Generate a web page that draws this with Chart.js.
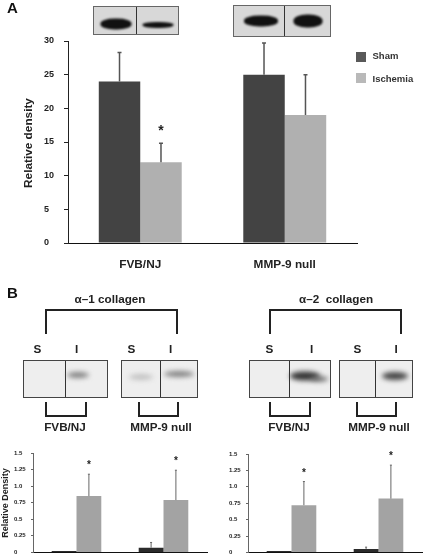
<!DOCTYPE html>
<html lang="en">
<head>
<meta charset="UTF-8" />
<title>Relative density blots</title>
<style>
  body { margin: 0; background: #fff; font-family: "Liberation Sans", Arial, sans-serif; font-weight: bold; color: #222; }
  #page { position: relative; width: 428px; height: 559px; overflow: hidden; filter: blur(0.35px); }
  canvas { position: absolute; }
  .txt { position: absolute; white-space: pre; transform: translate(-50%, -50%); font-size: 11.7px; line-height: 1; }
  .panel { position: absolute; font-size: 15px; line-height: 1; color: #111; }
  .key { position: absolute; left: 356px; width: 10px; height: 10px; }
  .keytxt { position: absolute; left: 372.5px; font-size: 9.5px; line-height: 1; color: #333; }
  .blot { position: absolute; box-sizing: border-box; border: 1px solid #444; background: #eeeeee; overflow: hidden; }
  .dark { background: #d8d8d8; border-color: #666; }
  .div { position: absolute; top: 0; bottom: 0; width: 1px; background: #333; }
  .band { position: absolute; border-radius: 45%; transform: translate(-50%, -50%); background: #111; filter: blur(1px); }
  .soft { border-radius: 50%; filter: blur(2.5px); background: #808080; }
  .br { position: absolute; box-sizing: border-box; border: 2px solid #222; }
  .top { border-bottom: 0; }
  .bot { border-top: 0; }
</style>
</head>
<body>
<div id="page">
  <canvas id="chartA" width="428" height="280" style="left:0;top:0"></canvas>
  <canvas id="chartB1" width="214" height="119" style="left:0;top:440px"></canvas>
  <canvas id="chartB2" width="214" height="119" style="left:214px;top:440px"></canvas>

  <div class="panel" style="left:7px;top:0">A</div>
  <div class="panel" style="left:7px;top:285px">B</div>

  <div class="key" style="top:52px;background:#595959"></div>
  <div class="key" style="top:73px;background:#b9b9b9"></div>
  <div class="keytxt" style="top:51px">Sham</div>
  <div class="keytxt" style="top:74px">Ischemia</div>

  <div class="txt" style="left:29px;top:143px;font-size:11.8px;transform:translate(-50%,-50%) rotate(-90deg)">Relative density</div>

  <div class="blot dark" style="left:93px;top:6px;width:86px;height:29px">
    <div class="div" style="left:42px"></div>
    <div class="band" style="left:22px;top:17px;width:31px;height:11px"></div>
    <div class="band" style="left:64px;top:18px;width:31px;height:6px"></div>
  </div>
  <div class="blot dark" style="left:233px;top:5px;width:98px;height:32px">
    <div class="div" style="left:50px"></div>
    <div class="band" style="left:27px;top:15px;width:34px;height:11px"></div>
    <div class="band" style="left:74px;top:15px;width:29px;height:13px"></div>
  </div>

  <div class="txt" style="left:110px;top:299px">α–1 collagen</div>
  <div class="txt" style="left:336px;top:299px">α–2  collagen</div>

  <div class="br top" style="left:45px;top:309px;width:133px;height:25px"></div>
  <div class="br top" style="left:268.5px;top:309px;width:133px;height:25px"></div>

  <div class="txt" style="left:37.5px;top:349px">S</div>
  <div class="txt" style="left:76.5px;top:349px">I</div>
  <div class="txt" style="left:131.5px;top:349px">S</div>
  <div class="txt" style="left:170.5px;top:349px">I</div>
  <div class="txt" style="left:269.5px;top:349px">S</div>
  <div class="txt" style="left:311.5px;top:349px">I</div>
  <div class="txt" style="left:357.5px;top:349px">S</div>
  <div class="txt" style="left:396px;top:349px">I</div>

  <div class="blot" style="left:23px;top:360px;width:85px;height:38px">
    <div class="div" style="left:41px"></div>
    <div class="band soft" style="left:54px;top:14px;width:22px;height:6px"></div>
  </div>
  <div class="blot" style="left:121px;top:360px;width:77px;height:38px">
    <div class="div" style="left:38px"></div>
    <div class="band soft" style="left:19px;top:16px;width:24px;height:6px;background:#c2c2c2"></div>
    <div class="band soft" style="left:57px;top:13px;width:30px;height:6px"></div>
  </div>
  <div class="blot" style="left:249px;top:360px;width:82px;height:38px">
    <div class="div" style="left:39px"></div>
    <div class="band soft" style="left:55px;top:15px;width:30px;height:9px;background:#333"></div>
    <div class="band soft" style="left:69px;top:18px;width:18px;height:5px;background:#666"></div>
  </div>
  <div class="blot" style="left:339px;top:360px;width:74px;height:38px">
    <div class="div" style="left:35px"></div>
    <div class="band soft" style="left:55px;top:15px;width:26px;height:8px;background:#444"></div>
  </div>

  <div class="br bot" style="left:45px;top:402px;width:42px;height:15px"></div>
  <div class="br bot" style="left:137.5px;top:402px;width:41px;height:15px"></div>
  <div class="br bot" style="left:268.5px;top:402px;width:42px;height:15px"></div>
  <div class="br bot" style="left:355.5px;top:402px;width:41px;height:15px"></div>

  <div class="txt" style="left:65px;top:427px">FVB/NJ</div>
  <div class="txt" style="left:161px;top:427px">MMP-9 null</div>
  <div class="txt" style="left:289px;top:427px">FVB/NJ</div>
  <div class="txt" style="left:379px;top:427px">MMP-9 null</div>

  <div class="txt" style="left:4.5px;top:503px;font-size:9px;transform:translate(-50%,-50%) rotate(-90deg)">Relative Density</div>
</div>

<script src="https://cdn.jsdelivr.net/npm/chart.js@4"></script>
<script>
  const categoriesA = ["FVB/NJ", "MMP-9 null"];
  const shamA = [24, 25];
  const shamTopA = [28.3, 29.7];
  const ischemiaA = [12, 19];
  const ischemiaTopA = [14.8, 25];
  const starsA = [16.6, null];
  const ticksA = ["0", "5", "10", "15", "20", "25", "30"];

  const categoriesB = ["FVB/NJ", "MMP-9 null"];
  const ticksB = ["0", "0.25", "0.5", "0.75", "1.0", "1.25", "1.5"];

  const shamB1 = [0.02, 0.07];
  const shamTopB1 = [0.02, 0.15];
  const ischemiaB1 = [0.85, 0.79];
  const ischemiaTopB1 = [1.18, 1.24];
  const starsB1 = [1.32, 1.38];

  const shamB2 = [0.02, 0.05];
  const shamTopB2 = [0.02, 0.08];
  const ischemiaB2 = [0.72, 0.82];
  const ischemiaTopB2 = [1.08, 1.33];
  const starsB2 = [1.21, 1.46];

  // error bars (upper only) and the significance stars, placed with the chart scales
  const errorBars = {
    id: "errorBars",
    afterDatasetsDraw(chart, args, opts) {
      const ctx = chart.ctx;
      const y = chart.scales.y;
      chart.data.datasets.forEach((ds, d) => {
        const meta = chart.getDatasetMeta(d);
        ds.tops.forEach((top, i) => {
          const x = meta.data[i].x;
          if (top > ds.data[i]) {
            ctx.strokeStyle = opts.color;
            ctx.lineWidth = opts.width;
            ctx.beginPath();
            ctx.moveTo(x, y.getPixelForValue(ds.data[i]));
            ctx.lineTo(x, y.getPixelForValue(top));
            ctx.moveTo(x - opts.cap, y.getPixelForValue(top));
            ctx.lineTo(x + opts.cap, y.getPixelForValue(top));
            ctx.stroke();
          }
          if (ds.stars && ds.stars[i] != null) {
            ctx.fillStyle = "#222";
            ctx.font = "bold " + opts.star + "px 'Liberation Sans'";
            ctx.textAlign = "center";
            ctx.textBaseline = "middle";
            ctx.fillText("*", x, y.getPixelForValue(ds.stars[i]));
          }
        });
      });
    }
  };

  function barChart(id, o) {
    return new Chart(document.getElementById(id), {
      type: "bar",
      plugins: [errorBars],
      data: {
        labels: o.labels,
        datasets: [
          { label: "Sham", data: o.sham, tops: o.shamTops, backgroundColor: o.darkColor },
          { label: "Ischemia", data: o.isch, tops: o.ischTops, stars: o.stars, backgroundColor: o.lightColor }
        ]
      },
      options: {
        responsive: false,
        animation: false,
        devicePixelRatio: 1,
        layout: { padding: o.padding },
        datasets: { bar: { categoryPercentage: o.barShare, barPercentage: 1 } },
        plugins: {
          legend: { display: false },
          tooltip: { enabled: false },
          errorBars: o.err
        },
        scales: {
          x: {
            grid: { display: false },
            border: { color: "#111", width: o.xLine },
            ticks: {
              display: o.xFont > 0,
              padding: 7,
              maxRotation: 0,
              color: "#222",
              font: { family: "Liberation Sans", weight: "bold", size: o.xFont || 10 }
            },
            afterFit: s => { s.height = o.xHeight; }
          },
          y: {
            min: 0,
            max: o.max,
            grid: { drawOnChartArea: false, tickLength: o.tickLen, color: o.axisColor },
            border: { color: o.axisColor, width: 1 },
            ticks: {
              stepSize: o.step,
              crossAlign: "far",
              color: "#222",
              font: { family: "Liberation Sans", weight: "bold", size: o.yFont },
              callback: (v, i) => o.ticks[i]
            },
            afterFit: s => { s.width = o.yWidth; }
          }
        }
      }
    });
  }

  barChart("chartA", {
    labels: categoriesA, sham: shamA, shamTops: shamTopA, isch: ischemiaA, ischTops: ischemiaTopA, stars: starsA,
    darkColor: "#434343", lightColor: "#b0b0b0", barShare: 0.574,
    padding: { left: 44, top: 41, right: 71, bottom: 0 },
    err: { color: "#555", width: 1.5, cap: 2, star: 14 },
    max: 30, step: 5, ticks: ticksA, tickLen: 4, yFont: 9, yWidth: 24,
    xFont: 11.8, xLine: 1, xHeight: 37, axisColor: "#222"
  });

  barChart("chartB1", {
    labels: categoriesB, sham: shamB1, shamTops: shamTopB1, isch: ischemiaB1, ischTops: ischemiaTopB1, stars: starsB1,
    darkColor: "#2b2b2b", lightColor: "#a3a3a3", barShare: 0.57,
    padding: { left: 14, top: 13, right: 7, bottom: 6 },
    err: { color: "#666", width: 1, cap: 1, star: 10 },
    max: 1.5, step: 0.25, ticks: ticksB, tickLen: 2, yFont: 6, yWidth: 19,
    xFont: 0, xLine: 1, xHeight: 0, axisColor: "#666"
  });

  barChart("chartB2", {
    labels: categoriesB, sham: shamB2, shamTops: shamTopB2, isch: ischemiaB2, ischTops: ischemiaTopB2, stars: starsB2,
    darkColor: "#2b2b2b", lightColor: "#a3a3a3", barShare: 0.57,
    padding: { left: 15, top: 14, right: 6, bottom: 6 },
    err: { color: "#666", width: 1, cap: 1, star: 10 },
    max: 1.5, step: 0.25, ticks: ticksB, tickLen: 2, yFont: 6, yWidth: 19,
    xFont: 0, xLine: 1, xHeight: 0, axisColor: "#666"
  });
</script>
</body>
</html>
